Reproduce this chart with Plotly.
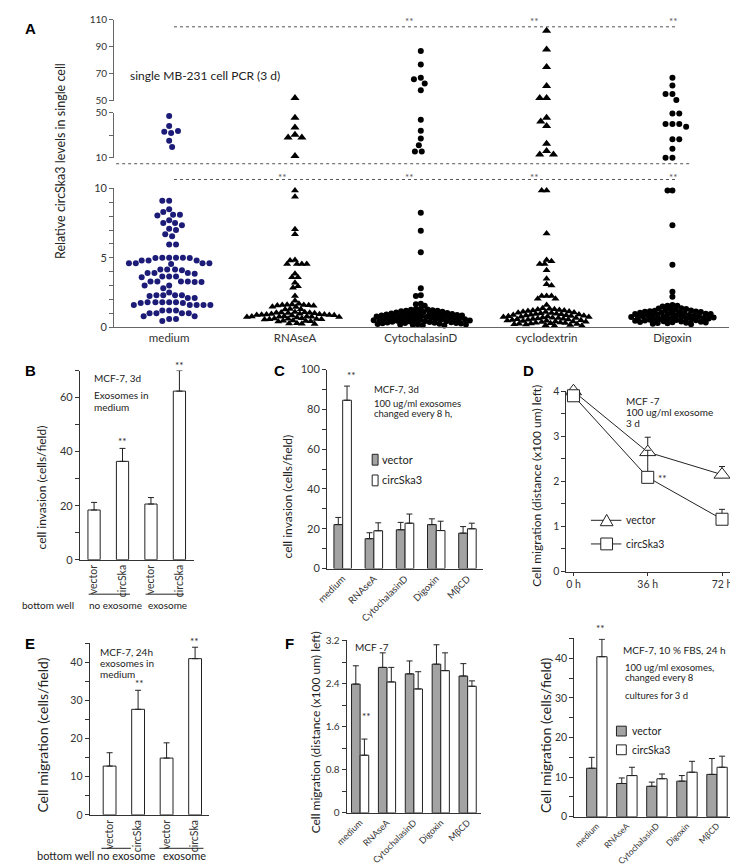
import plotly.graph_objects as go

W, H = 738, 866
FONT = "Lato"


def px(x):
    return x / W


def py(y):
    return 1 - y / H


# ---------------- Panel A data ----------------
cats_A = ["medium", "RNAseA", "CytochalasinD", "cyclodextrin", "Digoxin"]

medium_top = [46.9, 38, 32, 33, 33.6, 25, 19.5]
rnase_top = [52, 45.3, 36.7, 30.4, 28, 28, 11.6]
cyto_top = [87, 76.8, 67, 66, 62.7, 57.8, 43.7, 34, 27, 21, 15.5, 15.5]
cyclo_top = [102, 88, 75, 61, 52, 52, 45.3, 42, 38, 22.5, 16, 13, 13]
digoxin_top = [67, 61.3, 55, 55, 50.5, 49.2, 49.2, 39.8, 39.8, 39.8, 37.5, 26.5, 26.5, 18, 10, 10]

medium_bot = [9.1, 9.1, 8.5, 8.3, 8.1, 8.1, 8.05, 7.7, 7.5, 7.5, 7.35, 7.1, 7.0, 6.7, 6.55,
              5.95, 5.95, 5.0, 5.0, 5.0, 5.0, 4.98, 4.98, 4.8, 4.8, 4.8, 4.6, 4.6, 4.6, 4.6,
              4.55, 4.15, 4.15, 4.15, 4.1, 3.9, 3.9, 3.9, 3.85, 3.65, 3.65, 3.65, 3.6, 3.3,
              3.3, 3.3, 3.3, 3.25, 3.25, 3.0, 3.0, 2.8, 2.5, 2.3, 2.3, 2.3, 2.3, 2.25, 2.1,
              2.1, 1.8, 1.8, 1.8, 1.8, 1.8, 1.75, 1.75, 1.6, 1.6, 1.6, 1.6, 1.6, 1.2, 1.2,
              1.2, 1.0, 1.0, 1.0, 1.0, 0.8, 0.8, 0.6, 0.6, 0.45]
rnase_bot = [9.85, 9.4, 7.05, 6.7, 4.85, 4.8, 4.55, 4.55, 4.55, 4.55, 3.85, 3.6, 3.6, 3.2,
             2.95, 2.85, 2.25, 1.9, 1.7,
             1.63, 1.62, 1.6, 1.6, 1.58, 1.57, 1.55, 1.47, 1.45, 1.32, 1.3, 1.28, 1.1, 1.08,
             1.06, 1.05, 1.04, 1.02, 1.0, 0.97, 0.95, 0.93, 0.92, 0.91, 0.9, 0.89, 0.88,
             0.86, 0.85, 0.79, 0.78, 0.77, 0.76, 0.75, 0.74, 0.73, 0.71, 0.64, 0.63, 0.61,
             0.6, 0.58, 0.57, 0.55, 0.48, 0.47, 0.45, 0.43, 0.42, 0.28, 0.27, 0.25, 0.23]
cyto_bot = [8.25, 6.95, 5.4, 2.8, 2.3, 2.25, 1.7, 1.65, 1.55,
            1.34, 1.31, 1.27, 1.26, 1.22, 1.19, 1.18, 1.15, 1.11, 1.1, 1.07, 1.05, 1.03,
            1.01, 0.99, 0.98, 0.96, 0.94, 0.93, 0.91, 0.9, 0.88, 0.86, 0.85, 0.84, 0.81, 0.8,
            0.79, 0.77, 0.76, 0.74, 0.72, 0.71, 0.7, 0.68, 0.66, 0.65, 0.64, 0.62, 0.61,
            0.59, 0.58, 0.56, 0.55, 0.53, 0.52, 0.51, 0.49, 0.47, 0.46, 0.44, 0.43, 0.41,
            0.4, 0.38, 0.36, 0.35, 0.33, 0.31, 0.3, 0.28, 0.27, 0.25, 0.24, 0.22, 0.2, 0.19,
            0.17, 0.15, 0.12]
cyclo_bot = [9.85, 9.85, 6.75, 4.85, 4.75, 4.55, 4.55, 4.1, 3.5, 3.1, 3.0, 2.25, 2.25, 2.25,
             2.05, 2.05, 1.6,
             1.36, 1.33, 1.29, 1.27, 1.24, 1.21, 1.2, 1.17, 1.13, 1.12, 1.09, 1.06, 1.04,
             1.02, 1.0, 0.97, 0.95, 0.94, 0.92, 0.9, 0.89, 0.87, 0.84, 0.83, 0.81, 0.8, 0.78,
             0.75, 0.74, 0.73, 0.7, 0.69, 0.67, 0.66, 0.63, 0.62, 0.6, 0.57, 0.56, 0.54, 0.52,
             0.5, 0.48, 0.46, 0.45, 0.42, 0.41, 0.39, 0.37, 0.35, 0.33, 0.31, 0.29, 0.27,
             0.26, 0.23, 0.21, 0.19, 0.16, 0.14, 0.11, 0.1]
digoxin_bot = [9.85, 9.85, 7.35, 4.5, 2.55, 2.2, 1.6, 1.55, 1.55, 1.5,
               1.37, 1.35, 1.32, 1.3, 1.26, 1.23, 1.21, 1.19, 1.16, 1.14, 1.12, 1.1, 1.08,
               1.06, 1.04, 1.01, 1.0, 0.98, 0.96, 0.95, 0.93, 0.91, 0.89, 0.87, 0.86, 0.84,
               0.82, 0.8, 0.79, 0.77, 0.75, 0.74, 0.72, 0.7, 0.68, 0.67, 0.65, 0.63, 0.61,
               0.6, 0.58, 0.56, 0.54, 0.52, 0.5, 0.48, 0.46, 0.44, 0.42, 0.4, 0.38, 0.36,
               0.34, 0.32, 0.3, 0.28, 0.25, 0.22]

# ---------------- Panel B / E data ----------------
labels_BE = ["vector", "circSka", "vector", "circSka"]
B_vals = [18.4, 36.4, 20.6, 62.4]
B_err = [2.8, 4.8, 2.4, 7.6]
E_vals = [12.8, 27.7, 14.9, 41.0]
E_err = [3.5, 5.0, 4.0, 3.0]

# ---------------- Panels C / F / G data ----------------
treat = ["medium", "RNAseA", "CytochalasinD", "Digoxin", "MβCD"]
C_vec = [22.1, 15.0, 19.5, 22.1, 17.8]
C_vec_err = [3.6, 3.0, 3.7, 2.9, 3.3]
C_circ = [84.6, 19.0, 22.8, 19.1, 20.0]
C_circ_err = [7.1, 4.0, 4.6, 4.7, 2.8]

F_vec = [2.39, 2.70, 2.58, 2.76, 2.54]
F_vec_err = [0.34, 0.27, 0.24, 0.36, 0.23]
F_circ = [1.07, 2.43, 2.30, 2.64, 2.35]
F_circ_err = [0.30, 0.27, 0.32, 0.33, 0.10]

G_vec = [12.25, 8.4, 7.7, 9.0, 10.7]
G_vec_err = [2.75, 1.4, 1.05, 1.4, 4.0]
G_circ = [40.4, 10.4, 9.6, 11.25, 12.5]
G_circ_err = [4.4, 2.1, 1.2, 2.75, 2.8]

# ---------------- Panel D data ----------------
D_time = [0, 36, 72]
D_time_labels = ["0 h", "36 h", "72 h"]
D_vec = [4.0, 2.65, 2.15]
D_vec_err = [0, 0.33, 0.18]
D_circ = [3.9, 2.09, 1.16]
D_circ_err = [0, 0.6, 0.22]


# ---------------- helpers ----------------
def swarm(ypx, diam):
    """Deterministic beeswarm: horizontal pixel offset for each point."""
    placed, out = [], []
    for i, y in enumerate(ypx):
        k = 0
        found = None
        while found is None:
            if k == 0:
                cands = [0]
            else:
                cands = [k, -k] if i % 2 == 0 else [-k, k]
            for s in cands:
                if all((s - a) ** 2 + (y - b) ** 2 >= diam * diam for a, b in placed):
                    found = s
                    break
            k += 1
        placed.append((found, y))
        out.append(found)
    return out


A_X0, A_X1 = 0.563, 5.452
A_XPX = 627 / (A_X1 - A_X0)
UP_TOP, UP_BOT = 5, 87      # px of 110 and 50 (upper axis)
MID_TOP, MID_BOT = 99, 145  # px of 50 and 10 (middle axis)


def top_px(v):
    if v >= 50:
        return UP_BOT - (v - 50) * (UP_BOT - UP_TOP) / 60
    return MID_BOT - (v - 10) * (MID_BOT - MID_TOP) / 40


fig = go.Figure()

NAVY = "#1c1c78"
groups = [
    (medium_top, medium_bot, "circle", NAVY, 6, 6, 6.6),
    (rnase_top, rnase_bot, "triangle-up", "black", 8, 7, 4.6),
    (cyto_top, cyto_bot, "circle", "black", 6, 6, 4.5),
    (cyclo_top, cyclo_bot, "triangle-up", "black", 8, 7, 4.6),
    (digoxin_top, digoxin_bot, "circle", "black", 6, 6, 4.5),
]
for gi, (topv, botv, sym, col, stop, sbot, dm) in enumerate(groups):
    pos = gi + 1
    offs = swarm([v * 14.1 for v in botv], dm)
    fig.add_trace(go.Scatter(
        x=[pos + o / A_XPX for o in offs], y=botv, mode="markers",
        xaxis="x", yaxis="y", cliponaxis=False, showlegend=False, hoverinfo="skip",
        marker=dict(symbol=sym, size=sbot, color=col, line=dict(width=0))))
    offs_t = swarm([top_px(v) for v in topv], 7.0)
    up_x = [pos + o / A_XPX for o, v in zip(offs_t, topv) if v >= 50]
    up_y = [v for v in topv if v >= 50]
    mid_x = [pos + o / A_XPX for o, v in zip(offs_t, topv) if v < 50]
    mid_y = [v for v in topv if v < 50]
    for xs, ys, ya in ((up_x, up_y, "y3"), (mid_x, mid_y, "y2")):
        if xs:
            fig.add_trace(go.Scatter(
                x=xs, y=ys, mode="markers", xaxis="x", yaxis=ya, cliponaxis=False,
                showlegend=False, hoverinfo="skip",
                marker=dict(symbol=sym, size=stop, color=col, line=dict(width=0))))


def ERR(arr):
    return dict(type="data", array=arr, arrayminus=[0] * len(arr), symmetric=False,
                color="#222", thickness=1, width=3)


def bars(xa, ya, vals, errs, color, width, offset):
    fig.add_trace(go.Bar(
        x=list(range(len(vals))), y=vals, width=width, offset=offset,
        xaxis=xa, yaxis=ya, marker=dict(color=color, line=dict(color="#222", width=1)),
        error_y=ERR(errs), showlegend=False, hoverinfo="skip"))


VEC_GRAY = "#a3a3a3"
bars("x4", "y4", B_vals, B_err, "white", 0.43, -0.215)
bars("x7", "y7", E_vals, E_err, "white", 0.45, -0.225)
bars("x5", "y5", C_vec, C_vec_err, VEC_GRAY, 0.28, -0.28)
bars("x5", "y5", C_circ, C_circ_err, "white", 0.28, 0.0)
bars("x8", "y8", F_vec, F_vec_err, VEC_GRAY, 0.32, -0.32)
bars("x8", "y8", F_circ, F_circ_err, "white", 0.32, 0.0)
bars("x9", "y9", G_vec, G_vec_err, VEC_GRAY, 0.34, -0.34)
bars("x9", "y9", G_circ, G_circ_err, "white", 0.34, 0.0)

for vals, errs, sym, sz in ((D_vec, D_vec_err, "triangle-up", 14), (D_circ, D_circ_err, "square", 12)):
    fig.add_trace(go.Scatter(
        x=D_time, y=vals, mode="lines+markers", xaxis="x6", yaxis="y6", cliponaxis=False,
        line=dict(color="#222", width=1),
        marker=dict(symbol=sym, size=sz, color="white", line=dict(color="#222", width=1)),
        error_y=ERR(errs), showlegend=False, hoverinfo="skip"))

TF = dict(family=FONT, size=11, color="#333")


def base_axis(**kw):
    d = dict(showgrid=False, zeroline=False, showline=True, linecolor="#333", linewidth=1,
             ticks="outside", ticklen=4, tickcolor="#333", tickfont=TF, fixedrange=True)
    d.update(kw)
    return d


def ydom(top, bottom):
    return [py(bottom), py(top)]


def xdom(left, right):
    return [px(left), px(right)]


layout = dict(
    width=W, height=H, margin=dict(l=0, r=0, t=0, b=0),
    paper_bgcolor="white", plot_bgcolor="white", showlegend=False,
    font=dict(family=FONT, color="#222"),
)
TFA = dict(family=FONT, size=10, color="#333")
layout["xaxis"] = base_axis(domain=xdom(96, 723), range=[A_X0, A_X1], anchor="y",
                            tickvals=[1, 2, 3, 4, 5], ticktext=cats_A, ticks="",
                            linecolor="#666", tickfont=dict(family=FONT, size=11.5, color="#333"))
layout["yaxis"] = base_axis(domain=ydom(176, 317), range=[0, 10], anchor="x",
                            tickvals=list(range(11)),
                            ticktext=["0", "", "", "", "", "5", "", "", "", "", "10"],
                            linecolor="#666", tickcolor="#666")
layout["yaxis2"] = base_axis(domain=ydom(MID_TOP, MID_BOT), range=[10, 50], anchor="x",
                             tickvals=[10, 30, 50], ticktext=["10", "", "50"],
                             linecolor="#666", tickcolor="#666", tickfont=TFA)
layout["yaxis3"] = base_axis(domain=ydom(UP_TOP, UP_BOT), range=[50, 110], anchor="x",
                             tickvals=[50, 70, 90, 110], linecolor="#666", tickcolor="#666",
                             tickfont=TFA)

layout["xaxis4"] = base_axis(domain=xdom(61, 177), range=[-0.5, 3.5], anchor="y4",
                             tickvals=[0, 1, 2, 3], ticktext=labels_BE, tickangle=-90, ticks="",
                             tickfont=dict(family=FONT, size=10.5, color="#333"))
layout["yaxis4"] = base_axis(domain=ydom(361, 553), range=[0, 70], anchor="x4",
                             tickvals=list(range(0, 71, 10)),
                             ticktext=["0", "", "20", "", "40", "", "60", ""])
layout["xaxis5"] = base_axis(domain=xdom(313, 472), range=[-0.5, 4.5], anchor="y5",
                             tickvals=list(range(5)), ticktext=treat, tickangle=-45, ticks="",
                             tickfont=dict(family=FONT, size=9.5, color="#333"))
layout["yaxis5"] = base_axis(domain=ydom(360, 562), range=[0, 100], anchor="x5",
                             tickvals=list(range(0, 101, 10)),
                             ticktext=["0", "", "20", "", "40", "", "60", "", "80", "", "100"])
layout["xaxis6"] = base_axis(domain=xdom(557, 724), range=[-3.4, 76], anchor="y6",
                             tickvals=D_time, ticktext=D_time_labels, ticklen=3,
                             tickfont=dict(family=FONT, size=10.5, color="#333"))
layout["yaxis6"] = base_axis(domain=ydom(382, 565), range=[0, 4], anchor="x6",
                             tickvals=[0, 0.5, 1, 1.5, 2, 2.5, 3, 3.5, 4],
                             ticktext=["0", "", "1", "", "2", "", "3", "", "4"],
                             tickfont=dict(family=FONT, size=10.5, color="#333"))
layout["xaxis7"] = base_axis(domain=xdom(71, 193), range=[-0.7, 3.5], anchor="y7",
                             tickvals=[0, 1, 2, 3], ticktext=labels_BE, tickangle=-90, ticks="",
                             tickfont=dict(family=FONT, size=10.5, color="#333"))
layout["yaxis7"] = base_axis(domain=ydom(638, 812), range=[0, 45], anchor="x7",
                             tickvals=list(range(0, 46, 5)),
                             ticktext=["0", "", "10", "", "20", "", "30", "", "40", ""],
                             tickfont=dict(family=FONT, size=10.5, color="#333"))
layout["xaxis8"] = base_axis(domain=xdom(333, 470), range=[-0.5, 4.5], anchor="y8",
                             tickvals=list(range(5)), ticktext=treat, tickangle=-45, ticks="",
                             tickfont=dict(family=FONT, size=9, color="#333"))
layout["yaxis8"] = base_axis(domain=ydom(635, 810), range=[0, 3.2], anchor="x8",
                             tickvals=[0, 0.4, 0.8, 1.2, 1.6, 2.0, 2.4, 2.8, 3.2],
                             ticktext=["0", "", "0.8", "", "1.6", "", "2.4", "", "3.2"],
                             tickfont=dict(family=FONT, size=10, color="#333"))
layout["xaxis9"] = base_axis(domain=xdom(565, 735), range=[-0.75, 4.8], anchor="y9",
                             tickvals=list(range(5)), ticktext=treat, tickangle=-45, ticks="",
                             tickfont=dict(family=FONT, size=8.5, color="#333"))
layout["yaxis9"] = base_axis(domain=ydom(633, 814), range=[0, 45], anchor="x9",
                             tickvals=list(range(0, 46, 5)),
                             ticktext=["0", "", "10", "", "20", "", "30", "", "40", ""],
                             tickfont=dict(family=FONT, size=10.5, color="#333"))

fig.update_layout(**layout)

anns = []


def ann(text, x, y, size=10.5, xanchor="left", angle=0, bold=False, color="#222", family=FONT):
    if bold:
        text = "<b>" + text + "</b>"
    anns.append(dict(text=text, x=px(x), y=py(y), xref="paper", yref="paper", showarrow=False,
                     xanchor=xanchor, yanchor="middle", textangle=angle,
                     font=dict(family=family, size=size, color=color)))


for t, x, y in (("A", 3, 14), ("B", 3, 361), ("C", 257, 361), ("D", 511, 361),
                ("E", 3, 638), ("F", 268, 638)):
    ann(t, x, y, size=15, bold=True, color="black", family="Liberation Sans")

ann("single MB-231 cell PCR (3 d)", 110, 61, size=12)
ann("Relative circSka3 levels in single cell", 42, 148, size=12.5, xanchor="center", angle=-90)
for x in (397, 524, 666):
    ann("**", x, 6, size=10, xanchor="center", color="#555")
for x in (268, 397, 524, 666):
    ann("**", x, 164, size=10, xanchor="center", color="#555")

ann("MCF-7, 3d", 73, 369, size=10)
ann("Exosomes in", 73, 386, size=10)
ann("medium", 73, 398, size=10)
ann("**", 104.5, 432, size=10, xanchor="center")
ann("**", 163, 355, size=10, xanchor="center")
ann("cell invasion (cells/field)", 22, 480, size=12, xanchor="center", angle=-90)
ann("bottom well", 0, 599, size=10)
ann("no exosome", 97, 599, size=10, xanchor="center")
ann("exosome", 150, 599, size=10, xanchor="center")

ann("**", 338, 365, size=10, xanchor="center")
ann("MCF-7, 3d", 359, 380, size=9.5)
ann("100 ug/ml exosomes", 359, 394, size=9.5)
ann("changed every 8 h,", 359, 405, size=9.5)
ann("vector", 367, 451, size=11)
ann("circSka3", 367, 472, size=11)
ann("cell invasion (cells/field)", 273, 489, size=12, xanchor="center", angle=-90)

ann("MCF -7", 616, 392, size=10)
ann("100 ug/ml exosome", 616, 403, size=10)
ann("3 d", 616, 414, size=10)
ann("**", 655, 470, size=10, xanchor="center")
ann("**", 729, 514, size=10, xanchor="center")
ann("vector", 616, 513, size=10.5)
ann("circSka3", 616, 537, size=10.5)
ann("Cell migration (distance (x100 um) left)", 527, 478, size=12, xanchor="center", angle=-90)

ann("MCF-7, 24h", 80, 647, size=10)
ann("exosomes in", 80, 658, size=10)
ann("medium", 80, 669, size=10)
ann("**", 122, 678, size=10, xanchor="center")
ann("**", 178, 636, size=10, xanchor="center")
ann("Cell migration (cells/field)", 22, 731, size=14, xanchor="center", angle=-90)
ann("bottom well", 15, 853, size=11)
ann("no exosome", 108, 853, size=11, xanchor="center")
ann("exosome", 168, 853, size=11, xanchor="center")

ann("MCF -7", 339, 642, size=10)
ann("**", 353, 712, size=10, xanchor="center")
ann("Cell migration (distance (x100 um) left)", 301, 728, size=12, xanchor="center", angle=-90)

ann("MCF-7, 10 % FBS, 24 h", 613, 645, size=10)
ann("100 ug/ml exosomes,", 615, 662, size=9.5)
ann("changed every 8", 615, 673, size=9.5)
ann("cultures for 3 d", 615, 691, size=9.5)
ann("**", 592, 622, size=10, xanchor="center")
ann("vector", 622, 727, size=10.5)
ann("circSka3", 622, 746, size=10.5)
ann("Cell migration (cells/field)", 535, 731, size=14, xanchor="center", angle=-90)

shapes = []


def hline(x0, x1, y, dash="solid", color="#222", width=1):
    shapes.append(dict(type="line", xref="paper", yref="paper", x0=px(x0), x1=px(x1),
                       y0=py(y), y1=py(y), line=dict(color=color, width=width, dash=dash)))


def rect(x0, y0, x1, y1, fill):
    shapes.append(dict(type="rect", xref="paper", yref="paper", x0=px(x0), x1=px(x1),
                       y0=py(y1), y1=py(y0), fillcolor=fill, line=dict(color="#222", width=1)))


def path(points, fill="white"):
    d = "M " + " L ".join(f"{px(a):.5f},{py(b):.5f}" for a, b in points) + " Z"
    shapes.append(dict(type="path", xref="paper", yref="paper", path=d, fillcolor=fill,
                       line=dict(color="#222", width=1)))


hline(157, 668, 12, dash="dot", color="#555")
hline(98, 685, 151, dash="dot", color="#555")
hline(157, 668, 167, dash="dot", color="#555")

hline(70, 112, 588)
hline(128, 167, 588)
hline(83, 113, 846)
hline(142, 187, 846)

rect(359, 446, 365, 457, VEC_GRAY)
rect(359, 467, 365, 478, "white")
rect(608, 722, 618, 732, VEC_GRAY)
rect(608, 741, 618, 751, "white")

hline(582, 613, 513)
hline(582, 613, 537)
path([(591.5, 518.5), (604.5, 518.5), (598, 507)])
rect(592, 531, 604, 543, "white")

fig.update_layout(annotations=anns, shapes=shapes)
fig.write_html("out.html")
